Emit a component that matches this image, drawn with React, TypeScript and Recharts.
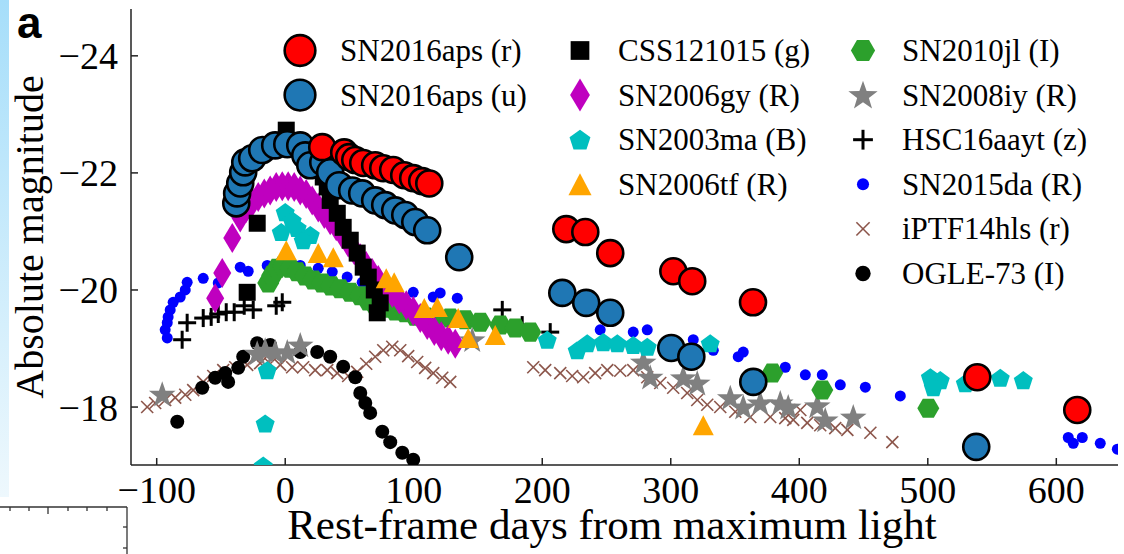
import React from "react";
import { ScatterChart, Scatter, XAxis, YAxis } from "recharts";

type Pt = [number, number];

// axis ticks
const xTicks = [-100, 0, 100, 200, 300, 400, 500, 600];
const yTicks = [-24, -22, -20, -18];

// [rest-frame days, absolute magnitude]
const sn2016apsR: Pt[] = [
  [28.8, -22.44], [45.9, -22.35], [49.8, -22.27], [54.5, -22.22], [60.7, -22.17], [70.0, -22.13],
  [76.3, -22.08], [84.0, -22.05], [92.6, -21.96], [99.6, -21.91], [106.6, -21.86], [112.1, -21.82],
  [218.7, -21.04], [233.5, -20.99], [252.9, -20.63], [302.0, -20.32], [316.7, -20.15], [364.0, -19.79],
  [538.5, -18.51], [616.3, -17.95],
];

const sn2016apsU: Pt[] = [
  [-38.1, -21.48], [-37.4, -21.65], [-35.0, -21.82], [-32.7, -22.01], [-31.1, -22.18], [-25.7, -22.25],
  [-17.9, -22.39], [-7.8, -22.47], [1.6, -22.49], [11.7, -22.47], [15.6, -22.3], [19.5, -22.13],
  [29.6, -22.18], [35.0, -22.01], [42.0, -21.79], [52.1, -21.7], [59.9, -21.65], [70.0, -21.53],
  [77.8, -21.45], [85.6, -21.36], [93.4, -21.28], [101.2, -21.16], [110.5, -21.02], [135.4, -20.56],
  [215.6, -19.95], [234.2, -19.78], [252.9, -19.61], [300.4, -19.01], [316.0, -18.86], [364.2, -18.43],
  [537.7, -17.32],
];

const css121015: Pt[] = [
  [0.8, -22.73], [-21.8, -21.14], [-29.6, -19.96], [25.7, -22.13], [29.6, -21.93], [32.7, -21.76],
  [35.0, -21.53], [40.5, -21.31], [45.1, -21.07], [50.6, -20.85], [56.0, -20.63], [60.7, -20.39],
  [64.6, -20.22], [69.3, -20.0], [73.9, -19.78], [71.6, -19.61],
];

const sn2006gy: Pt[] = [
  [-54.5, -19.86], [-49.0, -20.29], [-41.2, -20.89], [-35.0, -21.24], [-30.4, -21.4], [-25.7, -21.5],
  [-21.0, -21.59], [-16.3, -21.65], [-11.7, -21.7], [-7.0, -21.76], [-2.3, -21.77], [2.3, -21.77],
  [7.0, -21.76], [11.7, -21.7], [16.3, -21.64], [21.0, -21.53], [25.7, -21.41], [30.4, -21.3],
  [35.0, -21.19], [39.7, -21.09], [44.4, -20.95], [49.0, -20.81], [53.7, -20.68], [58.4, -20.54],
  [63.0, -20.41], [67.7, -20.29], [72.4, -20.17], [77.8, -20.05], [83.3, -19.95], [88.7, -19.84],
  [94.2, -19.74], [99.6, -19.64], [105.1, -19.52], [110.5, -19.4], [116.0, -19.3], [121.4, -19.21],
  [126.8, -19.15], [132.3, -19.08],
];

const sn2003ma: Pt[] = [
  [0.0, -21.33], [5.4, -21.19], [-3.1, -20.99], [9.3, -21.06], [19.5, -20.94], [14.0, -20.85],
  [-14.0, -18.63], [-15.6, -17.72], [-17.1, -17.0], [203.9, -19.15], [227.2, -18.97], [235.0, -19.09],
  [247.5, -19.11], [258.4, -19.09], [270.8, -19.06], [281.7, -19.03], [330.7, -19.09], [502.0, -18.51],
  [509.7, -18.46], [504.3, -18.34], [529.2, -18.41], [556.4, -18.5], [574.3, -18.46],
];

const sn2006tf: Pt[] = [
  [0.8, -20.68], [25.7, -20.63], [37.4, -20.56], [78.6, -20.2], [84.8, -20.13], [108.2, -19.69],
  [118.3, -19.71], [134.6, -19.52], [142.4, -19.18], [163.4, -19.23], [325.3, -17.69],
];

const sn2010jl: Pt[] = [
  [-13.2, -20.12], [-10.1, -20.25], [-6.2, -20.37], [-1.6, -20.41], [3.9, -20.37], [9.3, -20.31],
  [15.6, -20.24], [21.8, -20.17], [28.8, -20.12], [35.8, -20.07], [42.8, -20.02], [50.6, -19.96],
  [58.4, -19.9], [64.6, -19.81], [70.0, -19.74], [77.8, -19.69], [85.6, -19.64], [93.4, -19.61],
  [101.2, -19.55], [108.9, -19.54], [116.7, -19.52], [128.4, -19.52], [140.1, -19.49], [151.8, -19.45],
  [167.3, -19.4], [179.0, -19.35], [190.7, -19.28], [379.0, -18.58], [417.9, -18.29], [500.4, -17.98],
];

const sn2008iy: Pt[] = [
  [-95.7, -18.22], [-21.8, -18.92], [-15.6, -18.97], [-7.8, -18.94], [1.6, -18.94], [11.7, -19.06],
  [145.5, -19.15], [278.6, -18.77], [284.0, -18.51], [309.7, -18.5], [320.6, -18.41], [346.3, -18.16],
  [356.4, -18.0], [369.6, -18.07], [385.2, -18.07], [391.4, -18.0], [414.0, -18.02], [420.2, -17.78],
  [442.0, -17.83],
];

const hsc16aayt: Pt[] = [
  [-80.2, -19.15], [-76.3, -19.44], [-63.8, -19.52], [-57.6, -19.54], [-52.1, -19.59], [-45.9, -19.62],
  [-39.7, -19.62], [-31.9, -19.73], [-24.9, -19.66], [-7.0, -19.73], [-2.3, -19.79], [168.9, -19.66],
  [184.4, -19.4], [206.2, -19.28],
];

const sn2015da: Pt[] = [
  [-91.8, -19.18], [-93.4, -19.32], [-91.8, -19.44], [-91.1, -19.54], [-89.5, -19.66], [-87.2, -19.79],
  [-81.7, -19.88], [-77.8, -20.0], [-76.3, -20.13], [-63.8, -20.2], [-52.1, -20.12], [-35.0, -20.39],
  [-28.8, -20.32], [-14.0, -20.42], [11.7, -20.42], [25.7, -20.37], [36.6, -20.31], [48.2, -20.22],
  [59.9, -20.13], [99.6, -19.96], [115.2, -19.88], [120.6, -19.95], [133.9, -19.86], [245.1, -19.32],
  [270.8, -19.28], [281.7, -19.32], [317.5, -19.15], [333.1, -18.97], [352.5, -18.86], [356.4, -18.94],
  [389.1, -18.68], [404.7, -18.55], [417.9, -18.55], [431.9, -18.38], [451.4, -18.34], [478.6, -18.19],
  [609.3, -17.48], [620.2, -17.48], [613.2, -17.38], [634.2, -17.38], [647.5, -17.28],
];

const iptf14hls: Pt[] = [
  [-107.4, -18.0], [-101.2, -18.07], [-93.4, -18.12], [-85.6, -18.16], [-77.8, -18.21], [-71.6, -18.29],
  [-63.8, -18.43], [-56.0, -18.53], [-48.2, -18.63], [-38.9, -18.68], [-29.6, -18.72], [-19.5, -18.75],
  [-11.7, -18.74], [-3.9, -18.72], [5.4, -18.68], [14.0, -18.68], [23.3, -18.63], [32.7, -18.63],
  [40.5, -18.58], [49.0, -18.53], [56.0, -18.6], [63.0, -18.74], [70.0, -18.86], [76.3, -18.97],
  [83.3, -19.03], [89.5, -18.97], [95.7, -18.87], [102.7, -18.77], [108.9, -18.67], [115.2, -18.58],
  [122.2, -18.5], [128.4, -18.43], [193.0, -18.68], [202.3, -18.63], [214.0, -18.58], [223.3, -18.53],
  [231.9, -18.51], [241.2, -18.58], [250.6, -18.63], [260.7, -18.62], [270.8, -18.63], [281.7, -18.51],
  [291.8, -18.41], [301.9, -18.33], [312.8, -18.24], [320.6, -18.12], [328.4, -18.04], [338.5, -18.0],
  [350.2, -17.92], [361.9, -17.83], [377.4, -17.83], [389.1, -17.81], [395.3, -17.78], [400.8, -17.95],
  [406.2, -17.73], [416.3, -17.69], [428.0, -17.64], [437.4, -17.61], [455.3, -17.56], [472.4, -17.4],
];

const ogle73: Pt[] = [
  [-84.0, -17.75], [-64.6, -18.33], [-54.5, -18.5], [-46.7, -18.58], [-44.4, -18.43], [-36.6, -18.67],
  [-32.7, -18.86], [-21.8, -19.09], [-11.7, -19.06], [11.7, -18.94], [24.9, -18.94], [35.0, -18.86],
  [45.1, -18.69], [54.5, -18.51], [58.4, -18.24], [62.3, -18.07], [66.1, -17.9], [75.5, -17.58],
  [81.7, -17.4], [91.1, -17.22], [99.6, -17.1],
];

type Kind =
  | "red" | "blue" | "square" | "diamond" | "pentagon" | "triangle"
  | "hexagon" | "star" | "plus" | "dot" | "cross" | "blackdot";

const ring = (cx: number, cy: number, radii: number[], n: number, start: number) => {
  const pts: string[] = [];
  for (let i = 0; i < n; i++) {
    const a = ((start + (360 / n) * i) * Math.PI) / 180;
    const r = radii[i % radii.length];
    pts.push(`${cx + r * Math.cos(a)},${cy + r * Math.sin(a)}`);
  }
  return pts.join(" ");
};

function marker(kind: Kind, cx: number, cy: number, k = 1) {
  switch (kind) {
    case "red":
      return <circle cx={cx} cy={cy} r={13 * k} fill="#ff0000" stroke="#000" strokeWidth={2.6} />;
    case "blue":
      return <circle cx={cx} cy={cy} r={13 * k} fill="#1f77b4" stroke="#000" strokeWidth={2.6} />;
    case "square":
      return <rect x={cx - 8.5 * k} y={cy - 8.5 * k} width={17 * k} height={17 * k} fill="#000" />;
    case "diamond":
      return (
        <polygon
          points={`${cx},${cy - 15 * k} ${cx + 9 * k},${cy} ${cx},${cy + 15 * k} ${cx - 9 * k},${cy}`}
          fill="#bf00bf"
        />
      );
    case "pentagon":
      return <polygon points={ring(cx, cy + 1, [10 * k], 5, -90)} fill="#00bfbf" />;
    case "triangle":
      return (
        <polygon
          points={`${cx},${cy - 10 * k} ${cx - 10.5 * k},${cy + 10 * k} ${cx + 10.5 * k},${cy + 10 * k}`}
          fill="#ffa500"
        />
      );
    case "hexagon":
      return <polygon points={ring(cx, cy, [11 * k], 6, 0)} fill="#2ca02c" />;
    case "star":
      return <polygon points={ring(cx, cy + 1, [14 * k, 5.6 * k], 10, -90)} fill="#808080" />;
    case "plus":
      return (
        <g stroke="#000" strokeWidth={3}>
          <line x1={cx - 9 * k} y1={cy} x2={cx + 9 * k} y2={cy} />
          <line x1={cx} y1={cy - 9 * k} x2={cx} y2={cy + 9 * k} />
        </g>
      );
    case "dot":
      return <circle cx={cx} cy={cy} r={5.5 * k} fill="#0000ff" />;
    case "cross":
      return (
        <g stroke="#8c564b" strokeWidth={1.6}>
          <line x1={cx - 6 * k} y1={cy - 6 * k} x2={cx + 6 * k} y2={cy + 6 * k} />
          <line x1={cx - 6 * k} y1={cy + 6 * k} x2={cx + 6 * k} y2={cy - 6 * k} />
        </g>
      );
    case "blackdot":
      return <circle cx={cx} cy={cy} r={7 * k} fill="#000" />;
  }
}

// drawing order (bottom to top)
const series: { name: string; kind: Kind; data: Pt[] }[] = [
  { name: "SN2015da (R)", kind: "dot", data: sn2015da },
  { name: "iPTF14hls (r)", kind: "cross", data: iptf14hls },
  { name: "OGLE-73 (I)", kind: "blackdot", data: ogle73 },
  { name: "SN2008iy (R)", kind: "star", data: sn2008iy },
  { name: "HSC16aayt (z)", kind: "plus", data: hsc16aayt },
  { name: "SN2010jl (I)", kind: "hexagon", data: sn2010jl },
  { name: "SN2006gy (R)", kind: "diamond", data: sn2006gy },
  { name: "SN2003ma (B)", kind: "pentagon", data: sn2003ma },
  { name: "CSS121015 (g)", kind: "square", data: css121015 },
  { name: "SN2006tf (R)", kind: "triangle", data: sn2006tf },
  { name: "SN2016aps (u)", kind: "blue", data: sn2016apsU },
  { name: "SN2016aps (r)", kind: "red", data: sn2016apsR },
];

const legendCols = [
  { mx: 300, tx: 340, items: [["SN2016aps (r)", "red"], ["SN2016aps (u)", "blue"]] },
  {
    mx: 580, tx: 618,
    items: [["CSS121015 (g)", "square"], ["SN2006gy (R)", "diamond"], ["SN2003ma (B)", "pentagon"], ["SN2006tf (R)", "triangle"]],
  },
  {
    mx: 863, tx: 902,
    items: [
      ["SN2010jl (I)", "hexagon"], ["SN2008iy (R)", "star"], ["HSC16aayt (z)", "plus"],
      ["SN2015da (R)", "dot"], ["iPTF14hls (r)", "cross"], ["OGLE-73 (I)", "blackdot"],
    ],
  },
];

const fmt = (v: number) => (v < 0 ? `\u2212${Math.abs(v)}` : `${v}`);
const serif = "'Liberation Serif', 'Times New Roman', serif";
const axisColor = "#222";
const tickFont = { fontSize: 38, fill: "#000", fontFamily: serif };
const noTick = () => <g />;

export default function App() {
  return (
    <div style={{ position: "relative", width: 1124, height: 554, background: "#fff", overflow: "hidden" }}>
      <style>{`body{margin:0}`}</style>
      <svg width={1124} height={554} style={{ position: "absolute", left: 0, top: 0 }}>
        <defs>
          <linearGradient id="strip" x1="0" y1="0" x2="0" y2="1">
            <stop offset="0" stopColor="#a6defa" />
            <stop offset="1" stopColor="#eef8fd" />
          </linearGradient>
        </defs>
        <rect x={0} y={0} width={9} height={497} fill="url(#strip)" />
        <g stroke="#333" strokeWidth={1.3}>
          <line x1={0} y1={507} x2={127} y2={507} />
          <line x1={127} y1={507} x2={127} y2={554} />
          {[10, 29, 68, 87, 107].map((x) => (
            <line key={x} x1={x} y1={507} x2={x} y2={511} />
          ))}
          <line x1={48} y1={507} x2={48} y2={514} />
          <line x1={127} y1={527} x2={123} y2={527} />
          <line x1={127} y1={548} x2={123} y2={548} />
        </g>
      </svg>
      <div style={{ position: "absolute", left: 0, top: 0 }}>
        <ScatterChart width={1124} height={554} margin={{ top: 9, right: 6, bottom: 0, left: 0 }}>
          <XAxis
            type="number"
            dataKey="x"
            xAxisId="b"
            domain={[-120, 648]}
            allowDataOverflow
            ticks={xTicks}
            interval={0}
            tickFormatter={fmt}
            height={89}
            tickSize={-7}
            tickMargin={18}
            tick={tickFont}
            stroke={axisColor}
            strokeWidth={1.5}
          />
          <XAxis
            type="number"
            xAxisId="t"
            orientation="top"
            domain={[-120, 648]}
            allowDataOverflow
            ticks={xTicks}
            interval={0}
            height={0}
            tickSize={-7}
            tick={noTick}
            stroke={axisColor}
            strokeWidth={1.5}
          />
          <YAxis
            type="number"
            dataKey="y"
            yAxisId="l"
            domain={[-24.8, -17.01]}
            reversed
            allowDataOverflow
            ticks={yTicks}
            interval={0}
            tickFormatter={fmt}
            width={131}
            tickSize={-7}
            tickMargin={20}
            tick={tickFont}
            stroke={axisColor}
            strokeWidth={1.5}
          />
          <YAxis
            type="number"
            yAxisId="r"
            orientation="right"
            domain={[-24.8, -17.01]}
            reversed
            allowDataOverflow
            ticks={yTicks}
            interval={0}
            width={0}
            tickSize={-7}
            tick={noTick}
            stroke={axisColor}
            strokeWidth={1.5}
          />
          {series.map((s) => (
            <Scatter
              key={s.name}
              name={s.name}
              xAxisId="b"
              yAxisId="l"
              data={s.data.map(([x, y]) => ({ x, y }))}
              isAnimationActive={false}
              shape={(p: any) => marker(s.kind, p.cx, p.cy)}
            />
          ))}
        </ScatterChart>
      </div>
      <svg width={1124} height={554} style={{ position: "absolute", left: 0, top: 0, pointerEvents: "none" }}>
        <text x={17} y={38} fontFamily="'Liberation Sans', Arial, sans-serif" fontWeight="bold" fontSize={44}>
          a
        </text>
        <text
          x={43}
          y={237}
          transform="rotate(-90 43 237)"
          textAnchor="middle"
          fontFamily={serif}
          fontSize={40}
        >
          Absolute magnitude
        </text>
        <text x={612} y={539} textAnchor="middle" fontFamily={serif} fontSize={43}>
          Rest-frame days from maximum light
        </text>
        {legendCols.map((col) =>
          col.items.map(([label, kind], i) => {
            const cy = 50.5 + i * 44.6;
            return (
              <g key={label}>
                {marker(kind as Kind, col.mx, cy, kind === "red" || kind === "blue" ? 1.18 : 1.1)}
                <text x={col.tx} y={cy + 10.5} fontFamily={serif} fontSize={31}>
                  {label}
                </text>
              </g>
            );
          })
        )}
      </svg>
    </div>
  );
}
